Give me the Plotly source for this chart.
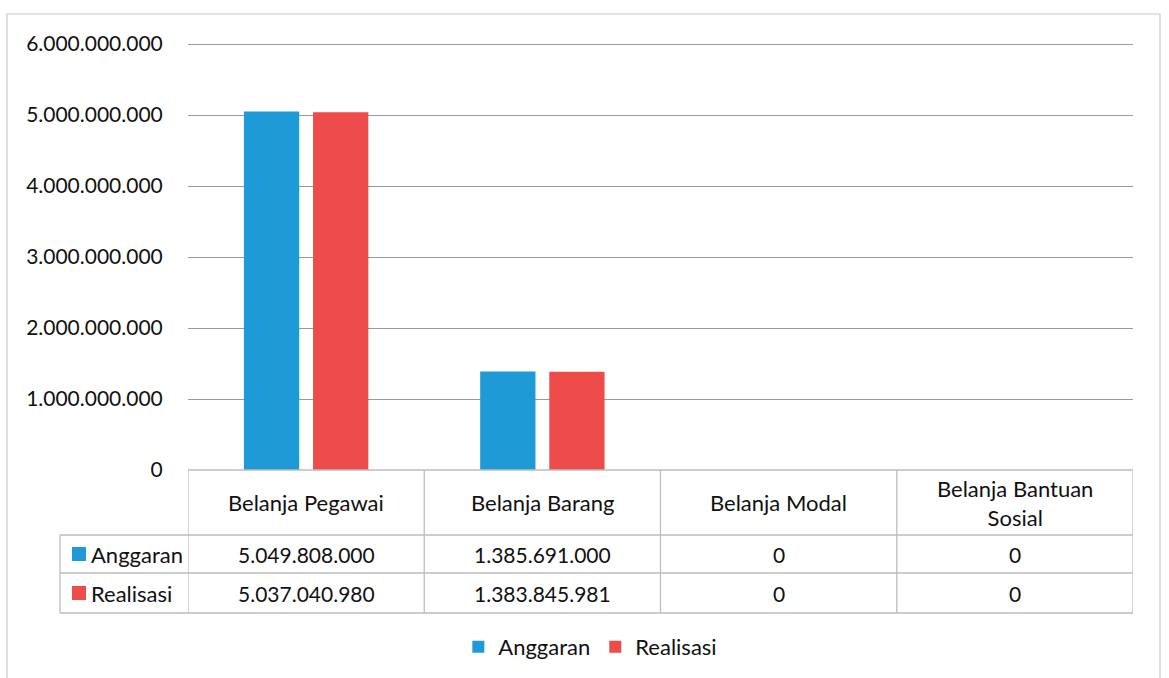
import plotly.graph_objects as go

categories = ["Belanja Pegawai", "Belanja Barang", "Belanja Modal", "Belanja Bantuan Sosial"]
header_labels = ["Belanja Pegawai", "Belanja Barang", "Belanja Modal", "Belanja Bantuan<br>Sosial"]
anggaran = [5049808000, 1385691000, 0, 0]
realisasi = [5037040980, 1383845981, 0, 0]
series_names = ["Anggaran", "Realisasi"]
colors = ["#1E9AD6", "#EE4B4B"]
yticks = [0, 1000000000, 2000000000, 3000000000, 4000000000, 5000000000, 6000000000]

W, H = 1169, 678
FONT = "Lato"
TXT = "#111111"
GRID = "#9A9A9A"
TLINE = "#BDBDBD"
YMAX = 6.06e9
Y0, PXB = 470, 71.0  # pixel row of zero, pixels per billion

# table row boundaries (pixels)
T_TOP, T_H, T_R1, T_R2 = 470, 535, 573, 613
LAB_LEFT = 60


def py(p):
    return 1 - p / H


def px(p):
    return p / W


def fmt(v):
    return f"{v:,}".replace(",", ".")


fig = go.Figure()
for name, vals, c in zip(series_names, [anggaran, realisasi], colors):
    fig.add_trace(go.Bar(x=categories, y=vals, name=name, marker_color=c,
                         marker_line_width=0, hoverinfo="skip"))

shapes = []
annotations = []

# outer border
shapes.append(dict(type="rect", xref="paper", yref="paper", x0=px(7), x1=px(1160),
                   y0=py(690), y1=py(14), line=dict(color="#C8C8C8", width=1.2)))

# table horizontal lines
shapes.append(dict(type="line", xref="x", yref="paper", x0=-0.5, x1=3.5,
                   y0=py(T_TOP), y1=py(T_TOP), line=dict(color=TLINE, width=1.3)))
for yy in [T_H, T_R1, T_R2]:
    shapes.append(dict(type="line", xref="paper", yref="paper", x0=px(LAB_LEFT), x1=px(1133),
                       y0=py(yy), y1=py(yy), line=dict(color=TLINE, width=1.3)))
# left label column vertical
shapes.append(dict(type="line", xref="paper", yref="paper", x0=px(LAB_LEFT), x1=px(LAB_LEFT),
                   y0=py(T_H), y1=py(T_R2), line=dict(color=TLINE, width=1.3)))
# category boundaries
for i in range(len(categories) + 1):
    shapes.append(dict(type="line", xref="x", yref="paper", x0=i - 0.5, x1=i - 0.5,
                       y0=py(T_TOP), y1=py(T_R2), line=dict(color=TLINE, width=1.3)))

# header
for cat, lab in zip(categories, header_labels):
    annotations.append(dict(x=cat, xref="x", y=py((T_TOP + T_H) / 2), yref="paper", text=lab,
                            showarrow=False, font=dict(family=FONT, size=22, color=TXT),
                            xanchor="center", yanchor="middle"))
# values
for vals, (ya, yb) in [(anggaran, (T_H, T_R1)), (realisasi, (T_R1, T_R2))]:
    for cat, v in zip(categories, vals):
        annotations.append(dict(x=cat, xref="x", y=py((ya + yb) / 2), yref="paper", text=fmt(v),
                                showarrow=False, font=dict(family=FONT, size=21, color=TXT),
                                xanchor="center", yanchor="middle"))
# row labels with colour keys
for name, c, (ya, yb) in zip(series_names, colors, [(T_H, T_R1), (T_R1, T_R2)]):
    yc = (ya + yb) / 2
    shapes.append(dict(type="rect", xref="paper", yref="paper", x0=px(72), x1=px(86),
                       y0=py(yc + 7), y1=py(yc - 7), fillcolor=c, line=dict(width=0)))
    annotations.append(dict(x=px(89), xref="paper", y=py(yc), yref="paper", text=name,
                            showarrow=False, font=dict(family=FONT, size=22, color=TXT),
                            xanchor="left", yanchor="middle"))

fig.update_layout(
    width=W, height=H,
    margin=dict(l=0, r=0, t=0, b=0, autoexpand=False),
    paper_bgcolor="white", plot_bgcolor="white",
    separators=",.",
    barmode="group", bargap=0.415, bargroupgap=0.2,
    font=dict(family=FONT, size=20, color=TXT),
    showlegend=True,
    legend=dict(orientation="h", x=0.505, xanchor="center", y=py(647), yanchor="middle",
                font=dict(family=FONT, size=22, color=TXT), traceorder="normal"),
    xaxis=dict(domain=[px(188), px(1133)], range=[-0.5, 3.5], showticklabels=False,
               showgrid=False, zeroline=False, showline=False, ticks="", automargin=False),
    yaxis=dict(domain=[py(Y0), py(Y0 - PXB * YMAX / 1e9)], range=[0, YMAX], tickvals=yticks,
               tickformat=",d", showgrid=True, gridcolor=GRID, gridwidth=1.2,
               zeroline=False, showline=False, ticks="outside", ticklen=20, automargin=False,
               tickcolor="rgba(0,0,0,0)", tickfont=dict(family=FONT, size=21, color=TXT)),
    shapes=shapes,
    annotations=annotations,
)

fig.write_html("out.html", config={"displayModeBar": False},
               post_script="document.body.style.margin='0';")
